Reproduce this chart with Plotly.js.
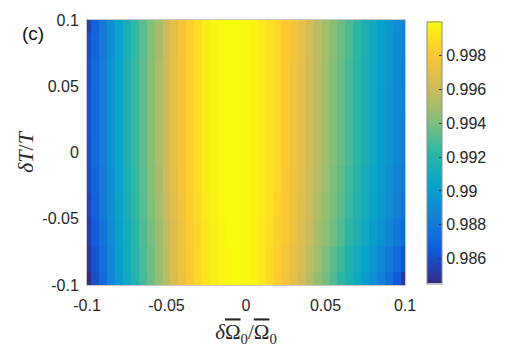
<!DOCTYPE html>
<html>
<head>
<meta charset="utf-8">
<script src="https://cdn.plot.ly/plotly-3.0.1.min.js"></script>
<style>
  html, body { margin: 0; padding: 0; background: #fff; }
  #plot { width: 514px; height: 353px; }
</style>
</head>
<body>
<div id="plot"></div>
<script>
// detuning of the pulse area, delta Omega / Omega (columns)
var dOmega = [-0.1, -0.095, -0.09, -0.085, -0.08, -0.075, -0.07, -0.065, -0.06, -0.055,
  -0.05, -0.045, -0.04, -0.035, -0.03, -0.025, -0.02, -0.015, -0.01, -0.005, 0,
  0.005, 0.01, 0.015, 0.02, 0.025, 0.03, 0.035, 0.04, 0.045, 0.05,
  0.055, 0.06, 0.065, 0.07, 0.075, 0.08, 0.085, 0.09, 0.095, 0.1];

// pulse length error, delta T / T (rows)
var dT = [-0.1, -0.08, -0.06, -0.04, -0.02, 0, 0.02, 0.04, 0.06, 0.08, 0.1];

// fidelity, one row per dT value
var rowM10 = [0.9846,0.9860,0.9872,0.9886,0.9898,0.9908,0.9918,0.9928,0.9937,0.9946,0.9955,0.9965,0.9973,0.9980,0.9986,0.9991,0.9995,0.9998,0.9999,1.0000,0.9999,
  0.9997,0.9993,0.9988,0.9982,0.9976,0.9969,0.9962,0.9954,0.9946,0.9938,0.9930,0.9922,0.9915,0.9907,0.9899,0.9891,0.9883,0.9874,0.9864,0.9849];
var rowM08 = [0.9850,0.9862,0.9874,0.9888,0.9900,0.9910,0.9920,0.9929,0.9938,0.9947,0.9956,0.9966,0.9974,0.9981,0.9987,0.9992,0.9996,0.9998,0.9999,1.0000,0.9999,
  0.9997,0.9993,0.9988,0.9983,0.9977,0.9971,0.9964,0.9956,0.9948,0.9940,0.9932,0.9925,0.9917,0.9910,0.9903,0.9896,0.9888,0.9880,0.9872,0.9863];
var rowM06 = [0.9853,0.9865,0.9877,0.9890,0.9901,0.9911,0.9921,0.9930,0.9939,0.9948,0.9957,0.9966,0.9975,0.9982,0.9987,0.9992,0.9996,0.9998,1.0000,1.0000,0.9999,
  0.9997,0.9993,0.9989,0.9984,0.9979,0.9973,0.9966,0.9959,0.9951,0.9944,0.9937,0.9930,0.9922,0.9915,0.9908,0.9900,0.9893,0.9886,0.9879,0.9872];
var rowM04 = [0.9856,0.9868,0.9880,0.9892,0.9903,0.9913,0.9923,0.9932,0.9941,0.9950,0.9959,0.9968,0.9976,0.9983,0.9988,0.9993,0.9996,0.9999,1.0000,1.0000,0.9999,
  0.9997,0.9994,0.9990,0.9985,0.9980,0.9974,0.9967,0.9960,0.9953,0.9946,0.9939,0.9932,0.9925,0.9918,0.9911,0.9904,0.9897,0.9890,0.9883,0.9877];
var rowM02 = [0.9859,0.9870,0.9881,0.9893,0.9904,0.9914,0.9924,0.9933,0.9942,0.9951,0.9960,0.9969,0.9977,0.9984,0.9989,0.9994,0.9997,0.9999,1.0000,1.0000,0.9999,
  0.9997,0.9994,0.9990,0.9986,0.9980,0.9974,0.9968,0.9961,0.9954,0.9947,0.9940,0.9933,0.9926,0.9919,0.9912,0.9905,0.9898,0.9891,0.9885,0.9880];
var row00 = [0.9860,0.9871,0.9882,0.9894,0.9905,0.9915,0.9925,0.9934,0.9943,0.9952,0.9961,0.9970,0.9977,0.9984,0.9989,0.9994,0.9997,0.9999,1.0000,1.0000,0.9999,
  0.9997,0.9994,0.9990,0.9986,0.9981,0.9975,0.9969,0.9962,0.9955,0.9948,0.9941,0.9935,0.9928,0.9921,0.9914,0.9907,0.9900,0.9894,0.9888,0.9882];
var rowP02 = [0.9861,0.9871,0.9882,0.9894,0.9905,0.9915,0.9925,0.9934,0.9943,0.9952,0.9961,0.9970,0.9977,0.9984,0.9989,0.9994,0.9997,0.9999,1.0000,1.0000,0.9999,
  0.9997,0.9994,0.9990,0.9986,0.9981,0.9975,0.9969,0.9962,0.9955,0.9948,0.9941,0.9935,0.9928,0.9921,0.9914,0.9907,0.9900,0.9894,0.9888,0.9882];
var rowP04 = [0.9861,0.9871,0.9882,0.9894,0.9905,0.9915,0.9925,0.9934,0.9943,0.9952,0.9961,0.9970,0.9977,0.9984,0.9989,0.9994,0.9997,0.9999,1.0000,1.0000,0.9999,
  0.9997,0.9994,0.9990,0.9986,0.9981,0.9975,0.9969,0.9962,0.9955,0.9948,0.9941,0.9935,0.9928,0.9921,0.9914,0.9907,0.9900,0.9894,0.9888,0.9883];
var rowP06 = [0.9860,0.9871,0.9882,0.9894,0.9905,0.9915,0.9925,0.9934,0.9943,0.9952,0.9961,0.9970,0.9977,0.9984,0.9989,0.9994,0.9997,0.9999,1.0000,1.0000,0.9999,
  0.9997,0.9994,0.9990,0.9986,0.9981,0.9975,0.9969,0.9962,0.9955,0.9948,0.9941,0.9935,0.9928,0.9921,0.9914,0.9907,0.9901,0.9895,0.9889,0.9883];
var rowP08 = [0.9859,0.9870,0.9881,0.9893,0.9904,0.9914,0.9924,0.9933,0.9942,0.9951,0.9960,0.9969,0.9977,0.9984,0.9989,0.9994,0.9997,0.9999,1.0000,1.0000,0.9999,
  0.9997,0.9994,0.9990,0.9986,0.9981,0.9976,0.9970,0.9963,0.9956,0.9949,0.9942,0.9936,0.9929,0.9922,0.9915,0.9908,0.9901,0.9895,0.9889,0.9884];
var rowP10 = [0.9855,0.9869,0.9881,0.9893,0.9904,0.9914,0.9924,0.9933,0.9942,0.9951,0.9960,0.9969,0.9977,0.9984,0.9989,0.9994,0.9997,0.9999,1.0000,1.0000,0.9999,
  0.9997,0.9994,0.9990,0.9986,0.9981,0.9976,0.9970,0.9963,0.9956,0.9949,0.9942,0.9936,0.9929,0.9922,0.9915,0.9908,0.9902,0.9896,0.9890,0.9885];

var fidelity = [rowM10, rowM08, rowM06, rowM04, rowM02, row00, rowP02, rowP04, rowP06, rowP08, rowP10];

var cbTicks = [0.986, 0.988, 0.99, 0.992, 0.994, 0.996, 0.998];
var cbLabels = ["0.986", "0.988", "0.99", "0.992", "0.994", "0.996", "0.998"];
var axTicks = [-0.1, -0.05, 0, 0.05, 0.1];
var axLabels = ["-0.1", "-0.05", "0", "0.05", "0.1"];

// matlab parula, roughly
var parula = [
  [0, "#352a87"], [0.125, "#0f5cdd"], [0.25, "#1481d6"], [0.375, "#06a4ca"],
  [0.5, "#2eb7a4"], [0.625, "#87bf77"], [0.75, "#d1bb59"], [0.875, "#fec832"],
  [1, "#f9fb0e"]
];

var tickFont = { family: "Liberation Sans, Arial, sans-serif", size: 16, color: "#262626" };
var mathFont = { family: "Liberation Serif, DejaVu Serif, serif", size: 21, color: "#262626" };

var trace = {
  type: "heatmap",
  x: dOmega,
  y: dT,
  z: fidelity,
  colorscale: parula,
  zmin: 0.98454,
  zmax: 1.0,
  zsmooth: false,
  colorbar: {
    x: 1.069,
    xanchor: "left",
    y: 0.5,
    yanchor: "middle",
    len: 0.99,
    thickness: 15,
    thicknessmode: "pixels",
    xpad: 0,
    ypad: 0,
    outlinewidth: 1,
    outlinecolor: "#8c8c8c",
    tickvals: cbTicks,
    ticktext: cbLabels,
    ticks: "inside",
    ticklen: 3,
    tickcolor: "#333",
    tickfont: tickFont
  }
};

var axisBase = {
  tickvals: axTicks,
  ticktext: axLabels,
  tickfont: tickFont,
  ticks: "",
  showgrid: false,
  zeroline: false,
  showline: true,
  mirror: true,
  linecolor: "#c8c8c8",
  linewidth: 1
};

var omegaBar = "<span style=\"text-decoration:overline\">Ω</span>";

var layout = {
  width: 514,
  height: 353,
  margin: { l: 87, r: 109, t: 20, b: 68 },
  paper_bgcolor: "#fff",
  plot_bgcolor: "#fff",
  xaxis: Object.assign({}, axisBase, {
    range: [-0.1, 0.1],
    ticklabelstandoff: 6,
    title: { text: "<i>δ</i>" + omegaBar + "<sub>0</sub>/" + omegaBar + "<sub>0</sub>", font: mathFont, standoff: 11 }
  }),
  yaxis: Object.assign({}, axisBase, {
    range: [-0.1, 0.1],
    ticklabelstandoff: 4,
    title: { text: "<i>δT</i>/<i>T</i>", font: { family: mathFont.family, size: 22, color: "#262626" }, standoff: 2 }
  }),
  annotations: [{
    text: "(c)",
    xref: "paper", yref: "paper",
    x: -0.21, y: 0.95,
    xanchor: "left", yanchor: "middle",
    showarrow: false,
    font: { family: "Liberation Sans, Arial, sans-serif", size: 19, color: "#111" }
  }]
};

Plotly.newPlot("plot", [trace], layout, { staticPlot: true, displayModeBar: false });
</script>
</body>
</html>
